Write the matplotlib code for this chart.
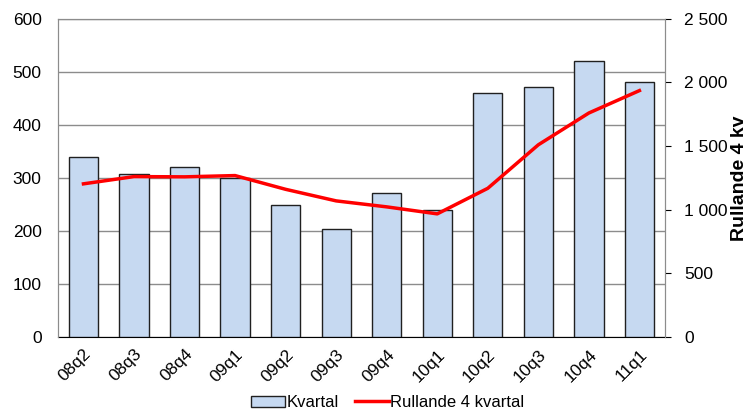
import matplotlib
matplotlib.use("Agg")
import matplotlib.pyplot as plt
from matplotlib.ticker import FuncFormatter

plt.rcParams['font.family'] = ['Liberation Sans', 'DejaVu Sans']

quarters = ['08q2', '08q3', '08q4', '09q1', '09q2', '09q3', '09q4', '10q1',
            '10q2', '10q3', '10q4', '11q1']
kvartal = [340, 308, 320, 299, 248, 204, 271, 240, 460, 471, 520, 480]
rullande = [1203, 1260, 1258, 1268, 1160, 1069, 1022, 967, 1168, 1510, 1760, 1936]

bar_color = '#C6D9F1'
grid_color = '#8C8C8C'

fig = plt.figure(figsize=(7.46, 4.19), dpi=100, facecolor='white')
ax = fig.add_axes([0.078, 0.196, 0.813, 0.759])
ax2 = ax.twinx()

x = range(len(quarters))
bars = ax.bar(x, kvartal, width=0.58, color=bar_color, edgecolor='#202020',
              linewidth=1.0, label='Kvartal', zorder=3)
line, = ax2.plot(x, rullande, color='#FF0000', linewidth=2.5,
                 solid_joinstyle='round', label='Rullande 4 kvartal', zorder=4)

ax.set_xlim(-0.5, len(quarters) - 0.5)
ax.set_ylim(0, 600)
ax.set_yticks(range(0, 601, 100))
ax2.set_ylim(0, 2500)
ax2.set_yticks(range(0, 2501, 500))
ax2.yaxis.set_major_formatter(FuncFormatter(lambda v, p: f'{int(v):,}'.replace(',', ' ')))

# grid and frame
ax.yaxis.grid(True, color=grid_color, linewidth=1.0, zorder=0)
ax.set_axisbelow(True)
for s in ['left', 'top', 'right']:
    ax.spines[s].set_color(grid_color)
    ax2.spines[s].set_color(grid_color)
ax.spines['bottom'].set_color('black')
ax2.spines['bottom'].set_visible(False)

ax.set_xticks(list(x))
ax.set_xticklabels(quarters, rotation=45, ha='right', rotation_mode='anchor')
ax.tick_params(axis='x', length=0, labelsize=12.5, pad=7)
ax.tick_params(axis='y', length=0, labelsize=12.5, pad=12)
ax2.tick_params(axis='y', length=4, color='black', labelsize=12.5, pad=10)

ax2.set_ylabel('Rullande 4 kv', fontsize=14, fontweight='bold', labelpad=2)

ax2.set_zorder(ax.get_zorder() + 1)
ax2.patch.set_visible(False)

fig.legend([bars, line], ['Kvartal', 'Rullande 4 kvartal'], loc='lower center',
           bbox_to_anchor=(0.52, -0.015), ncol=2, frameon=False, fontsize=12,
           handlelength=2.0, handletextpad=0.1, columnspacing=1.0)

fig.savefig('out.png', dpi=100, facecolor='white')
